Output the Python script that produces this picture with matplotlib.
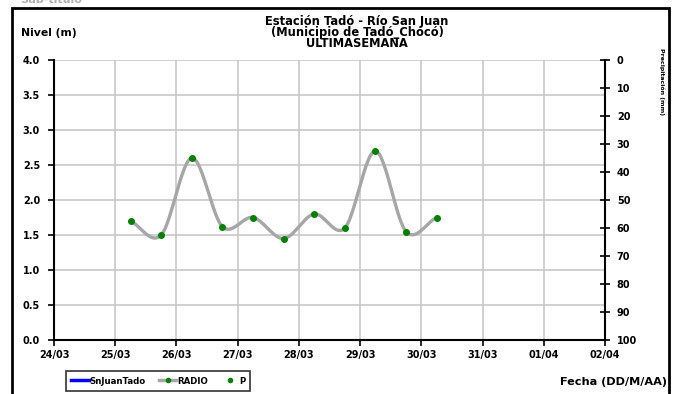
import numpy as np
import pandas as pd
import matplotlib
matplotlib.use('Agg')
import matplotlib.pyplot as plt
import matplotlib.dates as mdates
from matplotlib.lines import Line2D
from matplotlib.patches import Rectangle

plt.rcParams['font.family'] = ['DejaVu Sans']
plt.rcParams['font.weight'] = 'bold'

# datos
fechas = ['2020-03-25 06:00', '2020-03-25 18:00', '2020-03-26 06:00', '2020-03-26 18:00',
          '2020-03-27 06:00', '2020-03-27 18:00', '2020-03-28 06:00', '2020-03-28 18:00',
          '2020-03-29 06:00', '2020-03-29 18:00', '2020-03-30 06:00']
nivel = [1.70, 1.50, 2.60, 1.62, 1.75, 1.45, 1.80, 1.60, 2.70, 1.55, 1.75]
dias = ['24/03', '25/03', '26/03', '27/03', '28/03', '29/03', '30/03', '31/03', '01/04', '02/04']
niveles_y = [0.0, 0.5, 1.0, 1.5, 2.0, 2.5, 3.0, 3.5, 4.0]
precip_y = [0, 10, 20, 30, 40, 50, 60, 70, 80, 90, 100]

GRIS = '#a6a6a6'
VERDE = '#007f00'
AZUL = '#0000ff'


def suavizar(x, y, n=30):
    # curva suavizada tipo Excel (Catmull-Rom)
    x = np.asarray(x, float)
    y = np.asarray(y, float)
    px = np.concatenate([[2 * x[0] - x[1]], x, [2 * x[-1] - x[-2]]])
    py = np.concatenate([[2 * y[0] - y[1]], y, [2 * y[-1] - y[-2]]])
    xs, ys = [], []
    t = np.linspace(0, 1, n)
    for i in range(1, len(px) - 2):
        for p, out in ((px, xs), (py, ys)):
            p0, p1, p2, p3 = p[i - 1], p[i], p[i + 1], p[i + 2]
            out.extend(0.5 * ((2 * p1) + (-p0 + p2) * t
                              + (2 * p0 - 5 * p1 + 4 * p2 - p3) * t ** 2
                              + (-p0 + 3 * p1 - 3 * p2 + p3) * t ** 3))
    return np.array(xs), np.array(ys)


t = pd.to_datetime(fechas)
tx = mdates.date2num(t)
ticks_x = mdates.date2num(pd.to_datetime([d + '/2020' for d in dias], format='%d/%m/%Y'))

fig = plt.figure(figsize=(6.77, 3.94), dpi=100)
ax = fig.add_axes([54 / 677, 1 - 340 / 394, 551 / 677, 280 / 394])

sx, sy = suavizar(tx, nivel)
ax.plot(sx, sy, color=GRIS, lw=2.4, zorder=3)
ax.plot(tx, nivel, 'o', color=VERDE, ms=4, zorder=4)

ax.set_xlim(ticks_x[0], ticks_x[-1])
ax.set_ylim(0, 4)
ax.set_xticks(ticks_x)
ax.set_xticklabels(dias)
ax.set_yticks(niveles_y)
ax.set_yticklabels(['%.1f' % v for v in niveles_y])
ax.grid(True, color='#c8c8c8', lw=1.2, zorder=0)
ax.set_axisbelow(True)
ax.spines['top'].set_visible(False)
ax.spines['right'].set_visible(False)
ax.spines['left'].set_linewidth(1.5)
ax.spines['bottom'].set_linewidth(1.5)
ax.tick_params(axis='both', labelsize=7, direction='out', length=4, width=1.2)
ax.tick_params(axis='x', pad=3)
ax.tick_params(axis='y', pad=6)

ax2 = ax.twinx()
ax2.set_ylim(100, 0)
ax2.set_yticks(precip_y)
ax2.tick_params(axis='y', labelsize=7, direction='inout', length=7, width=1.2, pad=5)
for s in ['top', 'left', 'bottom']:
    ax2.spines[s].set_visible(False)
ax2.spines['right'].set_linewidth(1.5)
for lab in ax.get_xticklabels() + ax.get_yticklabels() + ax2.get_yticklabels():
    lab.set_fontweight('bold')

fig.text(357 / 677, 1 - 15 / 394,
         'Estación Tadó - Río San Juan\n(Municipio de Tadó_Chocó)\nULTIMASEMANA',
         ha='center', va='top', fontsize=8.3, fontweight='bold', linespacing=0.82)
fig.text(21 / 677, 1 - 33 / 394, 'Nivel (m)', ha='left', va='center',
         fontsize=7.8, fontweight='bold')
fig.text(667 / 677, 1 - 382 / 394, 'Fecha (DD/M/AA)', ha='right', va='center',
         fontsize=8.1, fontweight='bold')
fig.text(662 / 677, 1 - 48 / 394, 'Precipitación (mm)', ha='center', va='top',
         rotation=270, fontsize=4.5, fontweight='bold')
fig.text(20 / 677, 1.0, 'Sub-título', ha='left', va='center', fontsize=8,
         color='#b0b0b0', fontweight='bold')

fig.patches.append(Rectangle((12 / 677, -0.02), 657 / 677, 1.0 - 8 / 394 + 0.02,
                             transform=fig.transFigure, fill=False,
                             edgecolor='black', lw=2))

handles = [Line2D([], [], color=AZUL, lw=2.5),
           Line2D([], [], color=GRIS, lw=2.5, marker='o', mfc=VERDE, mec=VERDE, ms=3),
           Line2D([], [], ls='none', marker='o', color=VERDE, ms=3)]
leg = fig.legend(handles, ['SnJuanTado', 'RADIO', 'P'], ncol=3,
                 loc='center left', bbox_to_anchor=(62 / 677, 1 - 381 / 394),
                 frameon=True, fancybox=False, edgecolor='black',
                 handlelength=2.0, handletextpad=0.05, columnspacing=1.6,
                 borderpad=0.6, prop={'weight': 'bold', 'size': 6.2})
leg.get_frame().set_linewidth(1.2)

fig.savefig('out.png', dpi=100)
